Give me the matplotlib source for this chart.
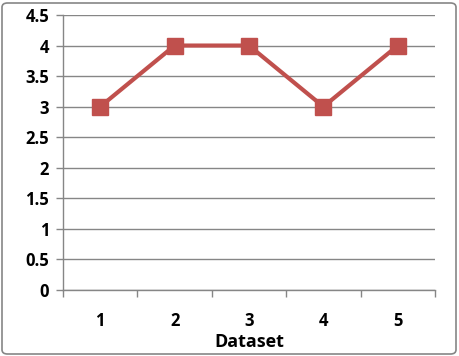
import matplotlib
matplotlib.use("Agg")
import matplotlib.pyplot as plt
from matplotlib.patches import FancyBboxPatch
import numpy as np

categories = ["1", "2", "3", "4", "5"]
values = [3, 4, 4, 3, 4]
yticks = [0, 0.5, 1, 1.5, 2, 2.5, 3, 3.5, 4, 4.5]
ytick_labels = ["0", "0.5", "1", "1.5", "2", "2.5", "3", "3.5", "4", "4.5"]

W, H = 459, 356
fig = plt.figure(figsize=(W / 100, H / 100), dpi=100)
plt.rcParams['font.family'] = ['Open Sans', 'DejaVu Sans']

# axes placement in pixels
left, right, top, bottom = 63, 435, 15, 290
ax = fig.add_axes([left / W, 1 - bottom / H, (right - left) / W, (bottom - top) / H])

x = np.arange(len(categories))
ax.plot(x, values, color="#C0504D", lw=3, marker="s", markersize=11,
        markeredgecolor="#C0504D", markerfacecolor="#C0504D", zorder=3, clip_on=False)

ax.set_xlim(-0.5, len(categories) - 0.5)
ax.set_ylim(0, 4.5)
ax.set_yticks(yticks)
ax.set_yticklabels(ytick_labels, fontsize=12, fontweight="bold")
ax.set_xticks(x)
ax.set_xticklabels(categories, fontsize=12, fontweight="bold")
ax.tick_params(axis="x", length=0, pad=16)
ax.tick_params(axis="y", length=5, color="#868686", width=1, pad=5)
# boundary ticks on x
ax.set_xticks(np.arange(-0.5, len(categories), 1), minor=True)
ax.tick_params(axis="x", which="minor", length=5, color="#868686", width=1, direction="out")

ax.grid(axis="y", color="#868686", lw=1)
ax.set_axisbelow(True)
for s in ["top", "right"]:
    ax.spines[s].set_visible(False)
for s in ["left", "bottom"]:
    ax.spines[s].set_color("#868686")
    ax.spines[s].set_linewidth(1)

fig.text((left + right) / 2 / W, 1 - 342 / H, "Dataset", fontsize=13, fontweight="bold",
         ha="center", va="center")

border = FancyBboxPatch((2 / W, 2 / H), 1 - 5 / W, 1 - 5 / H,
                        boxstyle="round,pad=0,rounding_size=0.012",
                        transform=fig.transFigure, fill=False,
                        edgecolor="#868686", lw=1.2)
fig.patches.append(border)

fig.savefig("out.png", dpi=100)
